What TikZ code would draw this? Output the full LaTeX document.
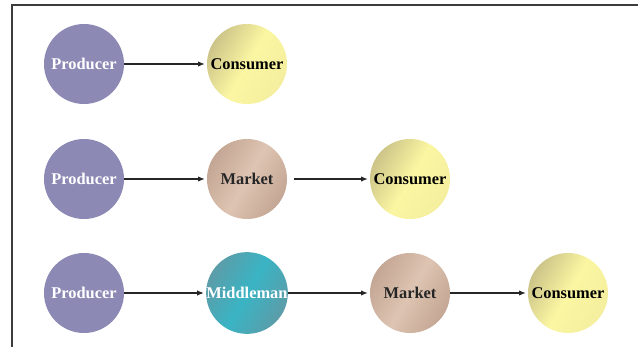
\documentclass[tikz,border=0pt]{standalone}
\usepackage{fontspec}
\setmainfont{Liberation Serif}
\usetikzlibrary{arrows.meta,positioning}
\definecolor{prodPurple}{RGB}{140, 137, 180}
\definecolor{consYellow}{RGB}{251, 246, 162}
\definecolor{consOlive}{RGB}{204, 196, 136}
\definecolor{mktTan}{RGB}{222, 196, 178}
\definecolor{mktDark}{RGB}{196, 166, 148}
\definecolor{midTeal}{RGB}{58, 180, 196}
\definecolor{midDark}{RGB}{92, 156, 168}
\definecolor{frameGray}{RGB}{60, 60, 60}

\begin{document}
\begin{tikzpicture}[
        x=0.75pt, y=0.75pt,
        actor/.style={circle, minimum size=60pt, inner sep=0pt, font=\fontsize{12.3}{14}\selectfont\bfseries},
        producer/.style={actor, fill=prodPurple, text=white},
        consumer/.style={actor, left color=consOlive, right color=consYellow!85!consOlive, middle color=consYellow, shading angle=60},
        market/.style={actor, left color=mktDark, right color=mktDark, middle color=mktTan, shading angle=60, text=black!85},
        middleman/.style={actor, left color=midDark, right color=midDark, middle color=midTeal, shading angle=60, text=white},
        flow/.style={-{Latex[length=5pt,width=4pt]}, line width=0.8pt, black!85, shorten >=1.5pt},
    ]
        \useasboundingbox (0,0) rectangle (638,347);
        % Frame
        \draw[frameGray, line width=1.2pt] (12,0) -- (12,342) -- (638,342);

        % First chain
        \node[producer] (pro1) at (84,283) {Producer};
        \node[consumer] (con1) at (247,283) {Consumer};

        % Second chain
        \node[producer] (pro2) at (84,168) {Producer};
        \node[market] (mkt2) at (247,168) {Market};
        \node[consumer] (con2) at (410,168) {Consumer};

        % Third chain
        \node[producer] (pro3) at (84,54) {Producer};
        \node[middleman] (mid3) at (247,54) {Middleman};
        \node[market] (mkt3) at (410,54) {Market};
        \node[consumer] (con3) at (568,54) {Consumer};

        % Arrows
        \draw[flow] (pro1) -- (con1);
        \draw[flow] (pro2) -- (mkt2);
        \draw[flow, shorten <=5pt] (mkt2) -- (con2);
        \draw[flow] (pro3) -- (mid3);
        \draw[flow] (mid3) -- (mkt3);
        \draw[flow] (mkt3) -- (con3);

    \end{tikzpicture}
\end{document}
